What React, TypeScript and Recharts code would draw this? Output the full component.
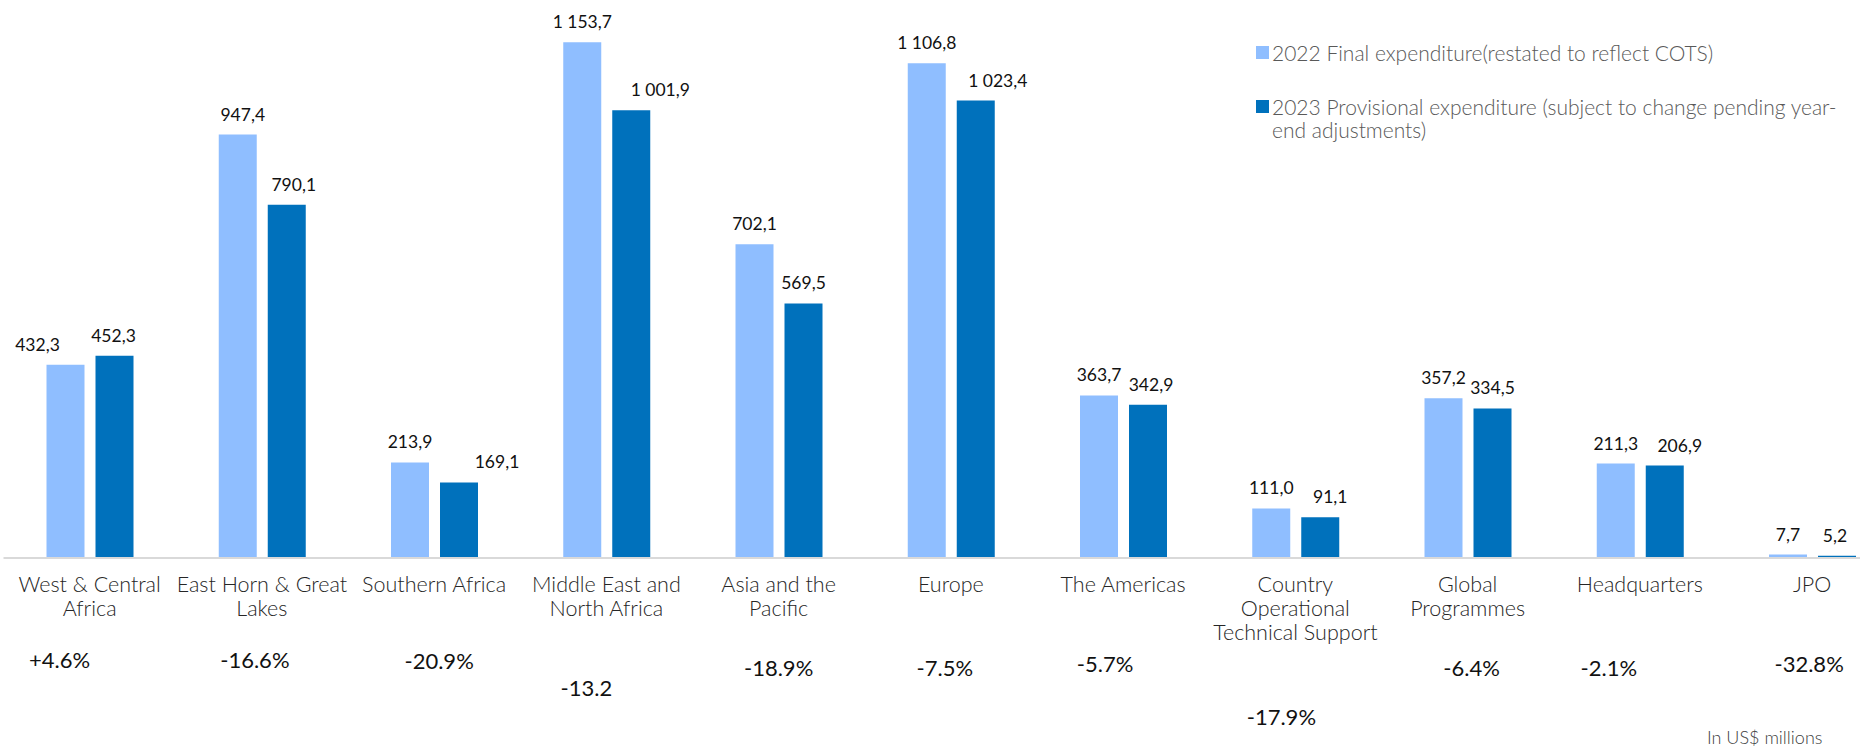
import React from "react";
import { Bar, BarChart, LabelList, Legend, XAxis, YAxis } from "recharts";

const categories = [
  "West & Central Africa",
  "East Horn & Great Lakes",
  "Southern Africa",
  "Middle East and North Africa",
  "Asia and the Pacific",
  "Europe",
  "The Americas",
  "Country Operational Technical Support",
  "Global Programmes",
  "Headquarters",
  "JPO",
];

// how each category label wraps under the axis
const categoryLines = [
  ["West & Central", "Africa"],
  ["East Horn & Great", "Lakes"],
  ["Southern Africa"],
  ["Middle East and", "North Africa"],
  ["Asia and the", "Pacific"],
  ["Europe"],
  ["The Americas"],
  ["Country", "Operational", "Technical Support"],
  ["Global", "Programmes"],
  ["Headquarters"],
  ["JPO"],
];

const final2022 = [432.3, 947.4, 213.9, 1153.7, 702.1, 1106.8, 363.7, 111.0, 357.2, 211.3, 7.7];
const provisional2023 = [452.3, 790.1, 169.1, 1001.9, 569.5, 1023.4, 342.9, 91.1, 334.5, 206.9, 5.2];
const changes = ["+4.6%", "-16.6%", "-20.9%", "-13.2", "-18.9%", "-7.5%", "-5.7%", "-17.9%", "-6.4%", "-2.1%", "-32.8%"];

const series2022 = "2022 Final expenditure(restated to reflect COTS)";
const series2023 = "2023 Provisional expenditure (subject to change pending year-end adjustments)";

// hand placed text boxes in the original, nudged off the category centre
const labelShift2022 = [-28, 5, 0, 0, 0, 0, 0, 0, 0, 0, 0];
const labelShift2023 = [-1, 7, 38, 29, 0, 22, 3, 10, 0, 15, -2];
const changeShiftX = [-30, -7, 5, -20, 0, -6, -18, -14, 4, -31, -3];
const changeShiftY = [0, 0, 1, 28, 8, 8, 4, 57, 8, 8, 4];

const LIGHT = "#8FBEFF";
const DARK = "#0071BC";
const FONT = "Lato, 'Open Sans', sans-serif";

const data = categories.map((name, i) => ({
  name,
  v2022: final2022[i],
  v2023: provisional2023[i],
}));

const fmt = (v: number) => {
  const [int, dec] = v.toFixed(1).split(".");
  return int.replace(/\B(?=(\d{3})+(?!\d))/g, " ") + "," + dec;
};

const makeLabel = (shift: number[]) => (props: any) => {
  const { x, y, width, value, index } = props;
  return (
    <text
      x={x + width / 2 + (shift[index] || 0)}
      y={y - 14}
      textAnchor="middle"
      fontSize={17.5}
      fontFamily={FONT}
      fill="#111"
    >
      {fmt(value)}
    </text>
  );
};

const CategoryTick = (props: any) => {
  const { x, y, index } = props;
  const lines = categoryLines[index] || [];
  return (
    <g>
      {lines.map((l, k) => (
        <text
          key={k}
          x={x}
          y={y + 34 + k * 24}
          textAnchor="middle"
          fontSize={21.5}
          fontWeight={300}
          fontFamily={FONT}
          fill="#262626"
        >
          {l}
        </text>
      ))}
      <text
        x={x + changeShiftX[index]}
        y={y + 110 + changeShiftY[index]}
        textAnchor="middle"
        fontSize={22}
        fontFamily={FONT}
        fill="#111"
      >
        {changes[index]}
      </text>
    </g>
  );
};

const LegendBox = (props: any) => {
  const items = props.payload || [];
  return (
    <div style={{ fontFamily: FONT, fontSize: 21, fontWeight: 300, color: "#595959", lineHeight: "23px" }}>
      {items.map((it: any, i: number) => (
        <div key={i} style={{ display: "flex", alignItems: "flex-start", marginBottom: i === 0 ? 31 : 0 }}>
          <span
            style={{
              width: 13,
              height: 13,
              background: it.color,
              marginTop: 5,
              marginRight: 3,
              flex: "none",
            }}
          />
          <span style={{ whiteSpace: "pre-line" }}>{String(it.value).replace("year-", "year-\n")}</span>
        </div>
      ))}
    </div>
  );
};

export default function App() {
  return (
    <div
      style={{
        position: "absolute",
        left: 0,
        top: 0,
        width: 1860,
        height: 748,
        overflow: "hidden",
        background: "#fff",
      }}
    >
      <BarChart
        width={1900}
        height={748}
        data={data}
        margin={{ top: 21.6, right: 1.75, left: 3.5, bottom: 0 }}
        barSize={38}
        barGap={11}
      >
        <XAxis
          dataKey="name"
          interval={0}
          tickLine={false}
          tickSize={0}
          tickMargin={0}
          height={190}
          axisLine={{ stroke: "#D9D9D9", strokeWidth: 2 }}
          tick={<CategoryTick />}
        />
        <YAxis hide domain={[0, 1200]} />
        <Legend
          layout="vertical"
          align="center"
          verticalAlign="middle"
          wrapperStyle={{ left: 1256, top: 41, width: 604 }}
          content={<LegendBox />}
        />
        <Bar dataKey="v2022" name={series2022} fill={LIGHT} isAnimationActive={false}>
          <LabelList dataKey="v2022" content={makeLabel(labelShift2022)} />
        </Bar>
        <Bar dataKey="v2023" name={series2023} fill={DARK} isAnimationActive={false}>
          <LabelList dataKey="v2023" content={makeLabel(labelShift2023)} />
        </Bar>
      </BarChart>
      <div
        style={{
          position: "absolute",
          left: 1707,
          top: 726,
          fontFamily: FONT,
          fontSize: 18,
          fontWeight: 300,
          color: "#404040",
          whiteSpace: "nowrap",
        }}
      >
        In US$ millions
      </div>
    </div>
  );
}
